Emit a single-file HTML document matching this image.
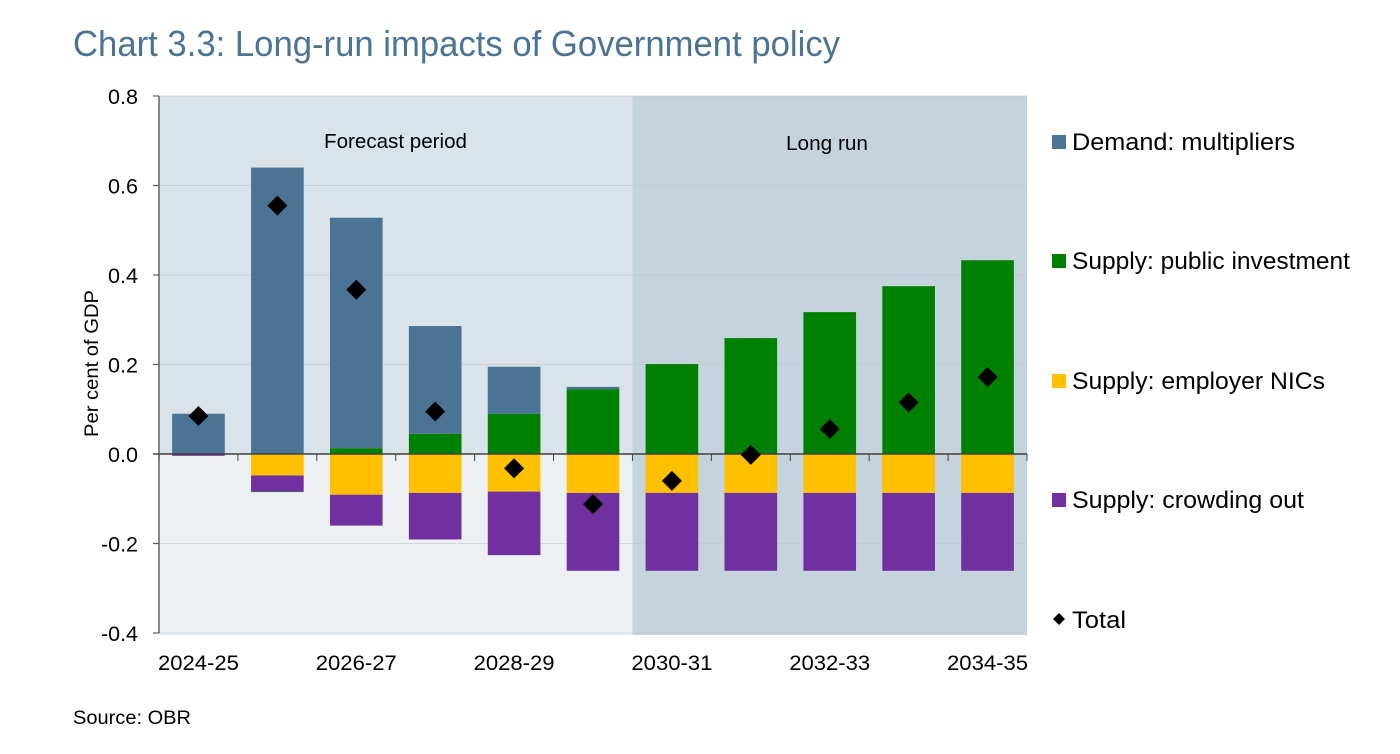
<!DOCTYPE html>
<html lang="en">
<head>
<meta charset="utf-8">
<title>Chart 3.3: Long-run impacts of Government policy</title>
<style>
html,body{margin:0;padding:0;background:#fff;width:1400px;height:754px;overflow:hidden}
svg{display:block}
text{font-family:"Liberation Sans",sans-serif;fill:#000}
</style>
</head>
<body>
<svg id="chart" width="1400" height="754" viewBox="0 0 1400 754" xmlns="http://www.w3.org/2000/svg">
  <text x="73" y="56" font-size="36" style="fill:#4a7394" textLength="767" lengthAdjust="spacingAndGlyphs">Chart 3.3: Long-run impacts of Government policy</text>
  <g id="plot-bg"></g>
  <g id="grid"></g>
  <g id="bars"></g>
  <g id="axes"></g>
  <g id="points"></g>
  <g id="labels"></g>
  <text x="395.5" y="148" font-size="20" text-anchor="middle" textLength="143" lengthAdjust="spacingAndGlyphs">Forecast period</text>
  <text x="827" y="150" font-size="20" text-anchor="middle" textLength="82" lengthAdjust="spacingAndGlyphs">Long run</text>
  <text transform="translate(98,363.5) rotate(-90)" font-size="19" text-anchor="middle" textLength="147" lengthAdjust="spacingAndGlyphs">Per cent of GDP</text>
  <g>
    <g>
      <rect x="1052" y="135" width="14" height="14" fill="#4a7394"/>
      <text x="1072" y="150" font-size="24" textLength="223" lengthAdjust="spacingAndGlyphs">Demand: multipliers</text>
    </g>
    <g>
      <rect x="1052" y="254" width="14" height="14" fill="#008000"/>
      <text x="1072" y="269" font-size="24" textLength="278" lengthAdjust="spacingAndGlyphs">Supply: public investment</text>
    </g>
    <g>
      <rect x="1052" y="374" width="14" height="14" fill="#ffc000"/>
      <text x="1072" y="389" font-size="24" textLength="253" lengthAdjust="spacingAndGlyphs">Supply: employer NICs</text>
    </g>
    <g>
      <rect x="1052" y="493" width="14" height="14" fill="#7030a0"/>
      <text x="1072" y="508" font-size="24" textLength="232" lengthAdjust="spacingAndGlyphs">Supply: crowding out</text>
    </g>
    <g>
      <polygon points="1059,613 1065,619 1059,625 1053,619" fill="#000"/>
      <text x="1072" y="628" font-size="24" textLength="54" lengthAdjust="spacingAndGlyphs">Total</text>
    </g>
  </g>
  <text x="73" y="724" font-size="19" textLength="118" lengthAdjust="spacingAndGlyphs">Source: OBR</text>
</svg>
<script>
var categories = ["2024-25","2025-26","2026-27","2027-28","2028-29","2029-30","2030-31","2031-32","2032-33","2033-34","2034-35"];
var demand = [0.09,0.64,0.515,0.241,0.105,0.005,0,0,0,0,0];
var publicInvestment = [0,-0.001,0.013,0.045,0.09,0.145,0.201,0.259,0.317,0.375,0.433];
var employerNics = [0,-0.048,-0.091,-0.087,-0.084,-0.087,-0.087,-0.087,-0.087,-0.087,-0.087];
var crowdingOut = [-0.004,-0.036,-0.069,-0.104,-0.142,-0.174,-0.174,-0.174,-0.174,-0.174,-0.174];
var total = [0.085,0.555,0.367,0.095,-0.032,-0.112,-0.06,-0.002,0.056,0.115,0.172];
var yTicks = [0.8,0.6,0.4,0.2,0,-0.2,-0.4];
var xLabelStep = 2;
var forecastCategories = 6;

var NS = "http://www.w3.org/2000/svg";
var plotLeft = 159, plotRight = 1027, plotTop = 96, plotBottom = 633;
var yMin = -0.4, yMax = 0.8;
function yScale(v){ return plotBottom - (v - yMin) / (yMax - yMin) * (plotBottom - plotTop); }
function bandWidth(){ return (plotRight - plotLeft) / categories.length; }
function xEdge(i){ return plotLeft + i * bandWidth(); }
function xCenter(i){ return xEdge(i) + bandWidth() / 2; }
function make(tag, parentId){
  var el = document.createElementNS(NS, tag);
  document.getElementById(parentId).appendChild(el);
  return el;
}
function rect(parentId, x, y, w, h, fill){
  var r = make("rect", parentId);
  r.setAttribute("x", x);
  r.setAttribute("y", y);
  r.setAttribute("width", w);
  r.setAttribute("height", h);
  r.setAttribute("fill", fill);
  return r;
}
function line(parentId, x1, y1, x2, y2, stroke, width){
  var l = make("line", parentId);
  l.setAttribute("x1", x1);
  l.setAttribute("y1", y1);
  l.setAttribute("x2", x2);
  l.setAttribute("y2", y2);
  l.setAttribute("stroke", stroke);
  l.setAttribute("stroke-width", width);
  return l;
}

// Backgrounds
var splitX = xEdge(forecastCategories);
var bgTop = rect("plot-bg", plotLeft, plotTop, splitX - plotLeft, yScale(0) - plotTop, "#dbe3ea");


var bgBot = rect("plot-bg", plotLeft, yScale(0), splitX - plotLeft, plotBottom + 2 - yScale(0), "#ecf0f3");


var bgLong = rect("plot-bg", splitX, plotTop, plotRight - splitX, plotBottom + 2 - plotTop, "#c5d3dd");



// Gridlines
yTicks.forEach(function(t){
  if (t === 0) return;
  var g = line("grid", plotLeft, yScale(t), plotRight, yScale(t), "#b9c4cd", 1);
  g.setAttribute("stroke-opacity", "0.55");
  
  
});

// Stacked bars
var stackOrder = [
  {name:"public-investment", values:publicInvestment, color:"#008000"},
  {name:"demand", values:demand, color:"#4a7394"},
  {name:"employer-nics", values:employerNics, color:"#ffc000"},
  {name:"crowding-out", values:crowdingOut, color:"#7030a0"}
];
var barW = bandWidth() * 0.667;
categories.forEach(function(cat, i){
  var pos = 0, neg = 0;
  var negSeries = stackOrder.slice().sort(function(a, b){
    return (a.name === "public-investment" ? 1 : 0) - (b.name === "public-investment" ? 1 : 0);
  });
  negSeries.forEach(function(s){
    var v = s.values[i];
    if (v >= 0) return;
    var b = rect("bars", xCenter(i) - barW / 2, yScale(neg), barW, yScale(neg + v) - yScale(neg), s.color);
    
    
    neg += v;
  });
  stackOrder.forEach(function(s){
    var v = s.values[i];
    if (v <= 0) return;
    var b = rect("bars", xCenter(i) - barW / 2, yScale(pos + v), barW, yScale(pos) - yScale(pos + v), s.color);
    
    
    pos += v;
  });
});

// Axes
var yAxis = line("axes", plotLeft, plotTop, plotLeft, plotBottom, "#5c5c5c", 1.4);


var xAxis = line("axes", plotLeft - 6, yScale(0), plotRight, yScale(0), "#404040", 1.4);


yTicks.forEach(function(t){
  var tk = line("axes", plotLeft - 6, yScale(t), plotLeft, yScale(t), "#5c5c5c", 1.2);
  
  
  var lb = make("text", "labels");
  lb.setAttribute("x", 138);
  lb.setAttribute("y", yScale(t) + 8);
  lb.setAttribute("font-size", "21");
  lb.setAttribute("text-anchor", "end");
  lb.setAttribute("textLength", t < 0 ? 37 : 30);
  lb.setAttribute("lengthAdjust", "spacingAndGlyphs");
  
  
  lb.textContent = t.toFixed(1);
});
for (var k = 0; k <= categories.length; k++) {
  var xt = line("axes", xEdge(k), yScale(0), xEdge(k), yScale(0) + 7, "#404040", 1);
  
  
}
categories.forEach(function(cat, i){
  if (i % xLabelStep !== 0) return;
  var lb = make("text", "labels");
  lb.setAttribute("x", xCenter(i));
  lb.setAttribute("y", 670);
  lb.setAttribute("font-size", "21");
  lb.setAttribute("text-anchor", "middle");
  lb.setAttribute("textLength", 81);
  lb.setAttribute("lengthAdjust", "spacingAndGlyphs");
  
  
  lb.textContent = cat;
});

// Total markers
total.forEach(function(v, i){
  var cx = xCenter(i), cy = yScale(v), r = 10;
  var p = make("polygon", "points");
  p.setAttribute("points", cx + "," + (cy - r) + " " + (cx + r) + "," + cy + " " + cx + "," + (cy + r) + " " + (cx - r) + "," + cy);
  p.setAttribute("fill", "#000");
  
  
});
</script>
</body>
</html>
